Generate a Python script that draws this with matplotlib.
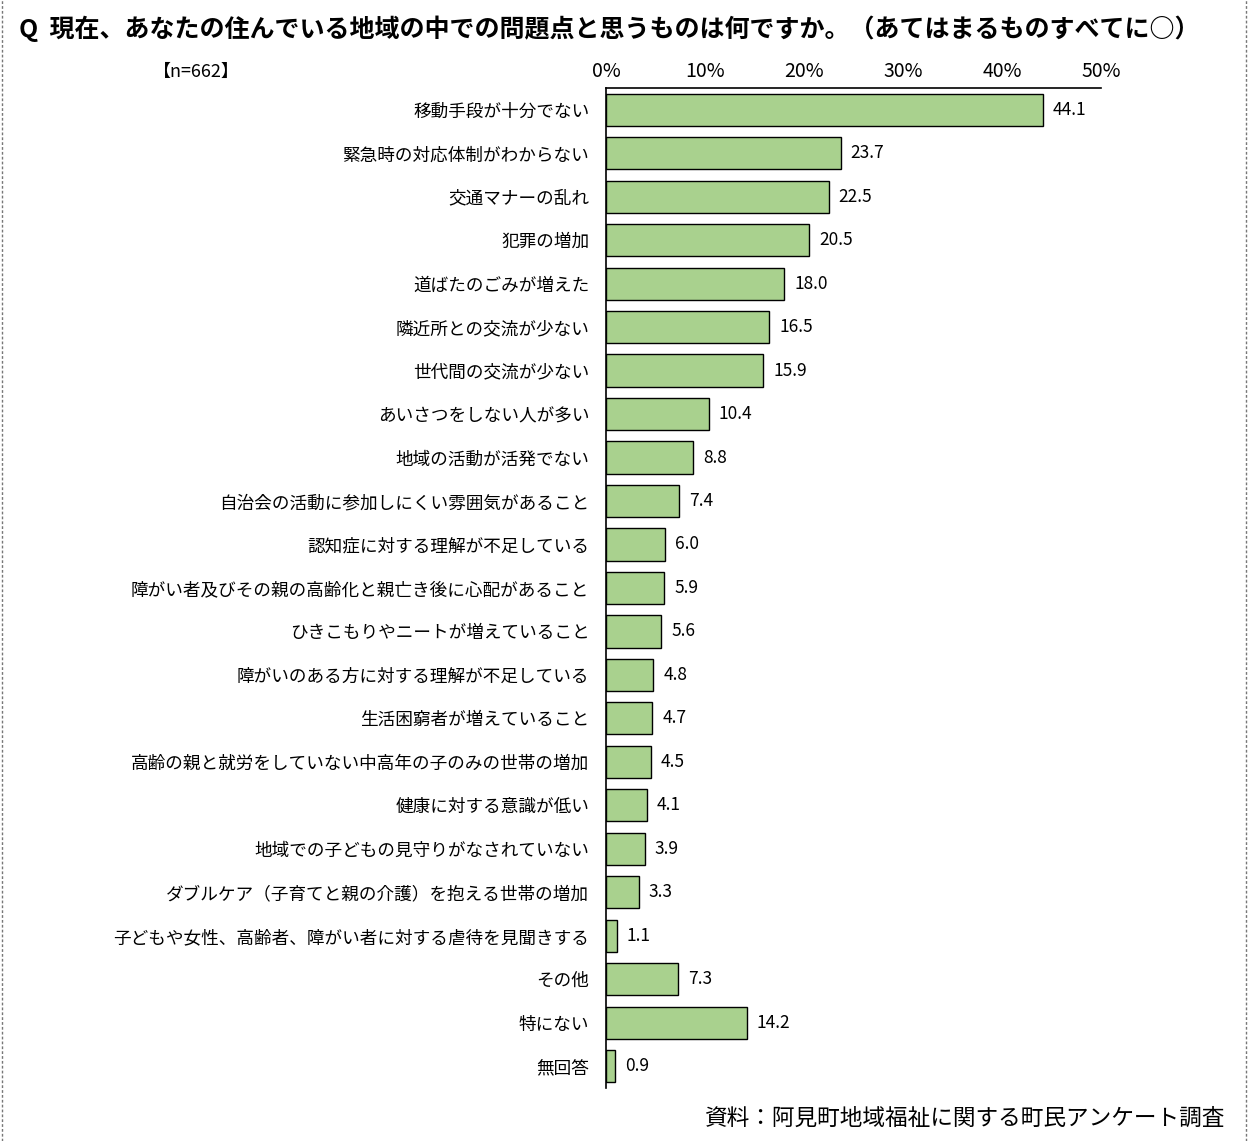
import numpy as np
import matplotlib.pyplot as plt
from matplotlib.lines import Line2D

plt.rcParams['font.family'] = ['Noto Sans CJK JP', 'DejaVu Sans']

# Survey items and percentages
items = [
    '移動手段が十分でない',
    '緊急時の対応体制がわからない',
    '交通マナーの乱れ',
    '犯罪の増加',
    '道ばたのごみが増えた',
    '隣近所との交流が少ない',
    '世代間の交流が少ない',
    'あいさつをしない人が多い',
    '地域の活動が活発でない',
    '自治会の活動に参加しにくい雰囲気があること',
    '認知症に対する理解が不足している',
    '障がい者及びその親の高齢化と親亡き後に心配があること',
    'ひきこもりやニートが増えていること',
    '障がいのある方に対する理解が不足している',
    '生活困窮者が増えていること',
    '高齢の親と就労をしていない中高年の子のみの世帯の増加',
    '健康に対する意識が低い',
    '地域での子どもの見守りがなされていない',
    'ダブルケア（子育てと親の介護）を抱える世帯の増加',
    '子どもや女性、高齢者、障がい者に対する虐待を見聞きする',
    'その他',
    '特にない',
    '無回答',
]
values = [44.1, 23.7, 22.5, 20.5, 18.0, 16.5, 15.9, 10.4, 8.8, 7.4, 6.0, 5.9,
          5.6, 4.8, 4.7, 4.5, 4.1, 3.9, 3.3, 1.1, 7.3, 14.2, 0.9]
x_ticks = [0, 10, 20, 30, 40, 50]

fig = plt.figure(figsize=(12.53, 11.41), dpi=100)
ax = fig.add_axes([0.4836, 0.0465, 0.3951, 0.8764])

y = np.arange(len(items))
ax.barh(y, values, height=0.74, color='#a9d18e', edgecolor='black', linewidth=1)
for yi, v in zip(y, values):
    ax.text(v + 1.0, yi, f'{v:.1f}', va='center', ha='left', fontsize=12.5)

ax.set_xlim(0, 50)
ax.set_ylim(len(items) - 0.5, -0.5)
ax.set_yticks(y)
ax.set_yticklabels(items, fontsize=12.7)
ax.set_xticks(x_ticks)
ax.set_xticklabels([f'{t}%' for t in x_ticks], fontsize=14)
ax.xaxis.tick_top()
ax.tick_params(axis='both', length=0)
ax.tick_params(axis='x', pad=4)
ax.tick_params(axis='y', pad=12)
ax.spines['right'].set_visible(False)
ax.spines['bottom'].set_visible(False)
ax.spines['top'].set_linewidth(1.2)
ax.spines['left'].set_linewidth(1.2)

fig.text(0.015, 0.975, 'Q  現在、あなたの住んでいる地域の中での問題点と思うものは何ですか。（あてはまるものすべてに○）',
         fontsize=18, fontweight='bold', va='center', ha='left')
fig.text(0.157, 0.937, '【n=662】', fontsize=13, va='center', ha='center')
fig.text(0.978, 0.02, '資料：阿見町地域福祉に関する町民アンケート調査',
         fontsize=16.3, va='center', ha='right')

# dashed frame on both sides
for xf in [0.0015, 0.9945]:
    fig.add_artist(Line2D([xf, xf], [0, 1], transform=fig.transFigure,
                          color='#777777', linestyle=(0, (2, 1.5)), linewidth=1))

plt.savefig('out.png', dpi=100)
